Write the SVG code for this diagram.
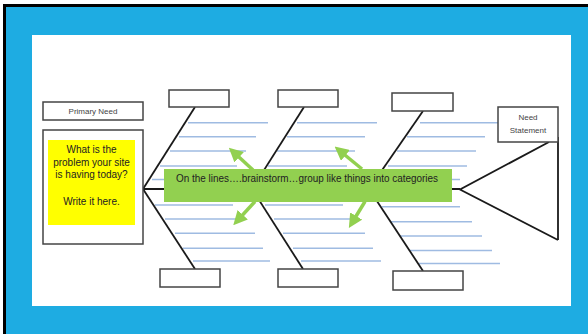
<svg xmlns="http://www.w3.org/2000/svg" width="588" height="334" viewBox="0 0 588 334">
<defs>
<style>
.box{fill:#fff;stroke:#444;stroke-width:1.5}
.bone{stroke:#1a1a1a;stroke-width:1.8;fill:none}
.rib{stroke:#9fbbe2;stroke-width:1.4}
.arr{stroke:#92d050;stroke-width:3.5;fill:none}
.lbl{font-family:"Liberation Sans",Arial,sans-serif;font-size:8px;fill:#444;text-anchor:middle}
.y{font-family:"Liberation Sans",Arial,sans-serif;font-size:10px;fill:#222;text-anchor:middle}
</style>
<marker id="ah" markerWidth="4" markerHeight="4" refX="2" refY="2" orient="auto" markerUnits="strokeWidth">
<path d="M0,0 L4,2 L0,4 z" fill="#92d050"/>
</marker>
</defs>
<rect x="3" y="4" width="585" height="330" fill="#000"/>
<rect x="6" y="7" width="582" height="327" fill="#1eace2"/>
<rect x="32" y="35" width="539" height="271" fill="#fff"/>

<g id="ribs">
<line class="rib" x1="188" y1="122.7" x2="268" y2="122.7"/>
<line class="rib" x1="179" y1="136.7" x2="256" y2="136.7"/>
<line class="rib" x1="170" y1="151" x2="246" y2="151"/>
<line class="rib" x1="160" y1="166" x2="237" y2="166"/>
<line class="rib" x1="152" y1="179.5" x2="227" y2="179.5"/>
<line class="rib" x1="297" y1="122.7" x2="377" y2="122.7"/>
<line class="rib" x1="287" y1="136.7" x2="365" y2="136.7"/>
<line class="rib" x1="277" y1="151" x2="355" y2="151"/>
<line class="rib" x1="268" y1="166" x2="347" y2="166"/>
<line class="rib" x1="260" y1="179.5" x2="337" y2="179.5"/>
<line class="rib" x1="420" y1="122.7" x2="498" y2="122.7"/>
<line class="rib" x1="407" y1="136.7" x2="485" y2="136.7"/>
<line class="rib" x1="397" y1="151" x2="476" y2="151"/>
<line class="rib" x1="388" y1="166" x2="467" y2="166"/>
<line class="rib" x1="379" y1="179.5" x2="460" y2="179.5"/>
<line class="rib" x1="155" y1="205" x2="233" y2="205"/>
<line class="rib" x1="165" y1="219" x2="244" y2="219"/>
<line class="rib" x1="175" y1="233.3" x2="255" y2="233.3"/>
<line class="rib" x1="183" y1="248.3" x2="263" y2="248.3"/>
<line class="rib" x1="193" y1="261" x2="270" y2="261"/>
<line class="rib" x1="265" y1="205" x2="343" y2="205"/>
<line class="rib" x1="274" y1="219" x2="354" y2="219"/>
<line class="rib" x1="283" y1="233.3" x2="365" y2="233.3"/>
<line class="rib" x1="293" y1="248.3" x2="373" y2="248.3"/>
<line class="rib" x1="301" y1="261" x2="381" y2="261"/>
<line class="rib" x1="382" y1="206.7" x2="460" y2="206.7"/>
<line class="rib" x1="391" y1="221.7" x2="472" y2="221.7"/>
<line class="rib" x1="400" y1="236" x2="482" y2="236"/>
<line class="rib" x1="410" y1="250.5" x2="492" y2="250.5"/>
<line class="rib" x1="419" y1="263.5" x2="500" y2="263.5"/>
</g>

<g id="connectors">
<line class="bone" x1="143" y1="189" x2="460" y2="189"/>
<line class="bone" x1="195" y1="107" x2="143" y2="189"/>
<line class="bone" x1="143" y1="189" x2="195" y2="269"/>
<line class="bone" x1="304" y1="107" x2="252" y2="189"/>
<line class="bone" x1="252" y1="189" x2="303" y2="269"/>
<line class="bone" x1="423" y1="111" x2="369" y2="189"/>
<line class="bone" x1="369" y1="189" x2="423" y2="271"/>
<polyline class="bone" points="549,142 460,189.5 558,240"/>
<line class="bone" x1="558" y1="137" x2="558" y2="240"/>
</g>

<g id="primary-need">
<rect class="box" x="43" y="102" width="100" height="18"/>
<text class="lbl" x="93" y="114">Primary Need</text>
</g>

<g id="problem">
<rect class="box" x="43" y="130" width="100" height="114"/>
<rect x="48" y="140" width="87" height="85" fill="#ffff00"/>
<text class="y" x="91.5" y="153.3">What is the</text>
<text class="y" x="91.5" y="165.8">problem your site</text>
<text class="y" x="91.5" y="178.3">is having today?</text>
<text class="y" x="91.5" y="205">Write it here.</text>
</g>

<g id="need-statement">
<rect class="box" x="498" y="107" width="60" height="35"/>
<text class="lbl" x="528" y="119.5">Need</text>
<text class="lbl" x="528" y="133">Statement</text>
</g>

<g id="cat-top-1"><rect class="box" x="169" y="90" width="60" height="17"/></g>
<g id="cat-top-2"><rect class="box" x="278" y="90" width="60" height="17"/></g>
<g id="cat-top-3"><rect class="box" x="392" y="93" width="61" height="18"/></g>
<g id="cat-bot-1"><rect class="box" x="160" y="269" width="60" height="18"/></g>
<g id="cat-bot-2"><rect class="box" x="278" y="269" width="60" height="18"/></g>
<g id="cat-bot-3"><rect class="box" x="393" y="271" width="70" height="19"/></g>

<g id="instructions">
<rect x="164" y="169" width="288" height="33" fill="#92d050"/>
<text x="176" y="181.5" font-family="'Liberation Sans',Arial,sans-serif" font-size="10" fill="#222" textLength="262" lengthAdjust="spacingAndGlyphs">On the lines….brainstorm…group like things into categories</text>
</g>

<g id="arrows">
<line class="arr" x1="253" y1="170" x2="234" y2="152.5" marker-end="url(#ah)"/>
<line class="arr" x1="362" y1="169" x2="340" y2="151" marker-end="url(#ah)"/>
<line class="arr" x1="255" y1="201.5" x2="238" y2="220" marker-end="url(#ah)"/>
<line class="arr" x1="365" y1="201.5" x2="352.5" y2="222" marker-end="url(#ah)"/>
</g>
</svg>
